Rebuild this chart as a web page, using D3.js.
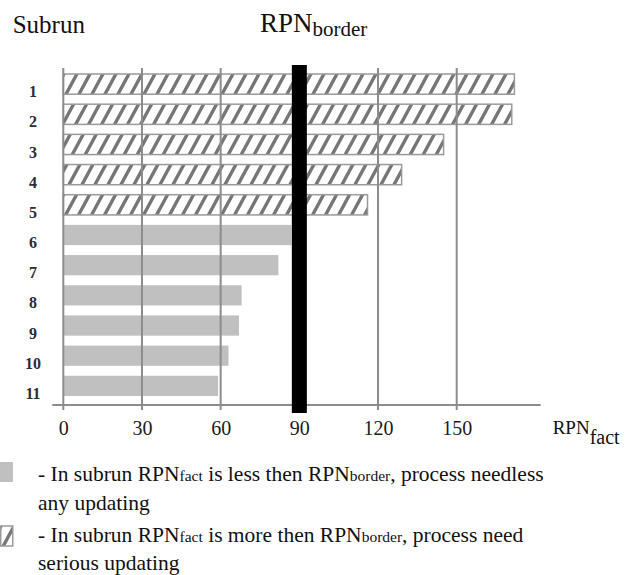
<!DOCTYPE html>
<html>
<head>
<meta charset="utf-8">
<script src="https://cdn.jsdelivr.net/npm/d3@7"></script>
<style>
  body { margin: 0; background: #fff; }
  svg { display: block; font-family: "Liberation Serif", "Times New Roman", serif; }
</style>
</head>
<body>
<div id="chart"></div>
<script>
const subruns = ["1", "2", "3", "4", "5", "6", "7", "8", "9", "10", "11"];
const rpnFact = [172, 171, 145, 129, 116, 87, 82, 68, 67, 63, 59];
const rpnBorder = 90;
const xTicks = [0, 30, 60, 90, 120, 150];

const width = 632;
const height = 575;
const gridColor = "#8c8c8c";

const svg = d3.select("#chart")
    .append("svg")
    .attr("width", width)
    .attr("height", height);

// hatch pattern for bars above the border
const pw = 13, ph = 24;
svg.append("defs")
    .append("pattern")
    .attr("id", "hatch")
    .attr("patternUnits", "userSpaceOnUse")
    .attr("width", pw)
    .attr("height", ph)
    .call(p => p.append("rect").attr("width", pw).attr("height", ph).attr("fill", "#fff"))
    .append("path")
    .attr("d", `M${-pw},${2 * ph}L${2 * pw},${-ph}M${-2 * pw},${2 * ph}L${pw},${-ph}M0,${2 * ph}L${3 * pw},${-ph}`)
    .attr("stroke", "#767676")
    .attr("stroke-width", 3.4);

const x = d3.scaleLinear()
    .domain([0, 150])
    .range([63.3, 456.7]);

const y = d3.scaleBand()
    .domain(subruns)
    .range([74, 396])
    .paddingInner(0.33)
    .paddingOuter(0);

const data = subruns.map((s, i) => ({ subrun: s, value: rpnFact[i] }));

// bars
svg.append("g")
    .selectAll("rect")
    .data(data)
    .join("rect")
    .attr("x", x(0))
    .attr("y", d => y(d.subrun))
    .attr("width", d => x(d.value) - x(0))
    .attr("height", y.bandwidth())
    .attr("fill", d => d.value > rpnBorder ? "url(#hatch)" : "#c0c0c0")
    .attr("stroke", d => d.value > rpnBorder ? "#9a9a9a" : "none")
    .attr("stroke-width", 1.5);

// gridlines over bars
svg.append("g")
    .selectAll("line")
    .data(xTicks)
    .join("line")
    .attr("x1", d => x(d))
    .attr("x2", d => x(d))
    .attr("y1", 68)
    .attr("y2", 410)
    .attr("stroke", gridColor)
    .attr("stroke-width", 2);

// horizontal axis line
svg.append("line")
    .attr("x1", x(0) - 11)
    .attr("x2", x(182))
    .attr("y1", 405)
    .attr("y2", 405)
    .attr("stroke", gridColor)
    .attr("stroke-width", 2);

// border marker
svg.append("rect")
    .attr("x", x(rpnBorder) - 7.5)
    .attr("y", 65)
    .attr("width", 15)
    .attr("height", 348)
    .attr("fill", "#000");

// x tick labels
const xAxis = svg.append("g")
    .attr("transform", "translate(0,405)")
    .call(d3.axisBottom(x).tickValues(xTicks).tickSize(0).tickPadding(15.5));
xAxis.select(".domain").remove();
xAxis.selectAll("text")
    .attr("font-family", "Liberation Serif, Times New Roman, serif")
    .attr("font-size", 20)
    .attr("fill", "#1a1a1a");

// subrun labels
const yAxis = svg.append("g")
    .attr("transform", "translate(33,8)")
    .call(d3.axisLeft(y).tickSize(0).tickPadding(0));
yAxis.select(".domain").remove();
yAxis.selectAll("text")
    .attr("text-anchor", "middle")
    .attr("font-family", "Liberation Serif, Times New Roman, serif")
    .attr("font-weight", "bold")
    .attr("font-size", 16)
    .attr("fill", "#2e2a3a");

// titles
svg.append("text")
    .attr("x", 12.7)
    .attr("y", 33)
    .attr("font-size", 25)
    .attr("fill", "#111")
    .text("Subrun");

const borderTitle = svg.append("text")
    .attr("x", 260)
    .attr("y", 31.7)
    .attr("font-size", 27)
    .attr("fill", "#111");
borderTitle.append("tspan").text("RPN");
borderTitle.append("tspan").attr("font-size", 21).attr("dy", 4.5).text("border");

const factTitle = svg.append("text")
    .attr("x", 552.7)
    .attr("y", 434.3)
    .attr("font-size", 19)
    .attr("fill", "#111");
factTitle.append("tspan").text("RPN");
factTitle.append("tspan").attr("font-size", 20).attr("dy", 10).text("fact");

// legend
svg.append("rect")
    .attr("x", 0).attr("y", 462)
    .attr("width", 13).attr("height", 20)
    .attr("fill", "#c0c0c0");
svg.append("rect")
    .attr("x", 0.75).attr("y", 526)
    .attr("width", 12).attr("height", 20)
    .attr("fill", "url(#hatch)")
    .attr("stroke", "#9a9a9a")
    .attr("stroke-width", 1.5);

const legendLines = [
    { y: 481, parts: [["- In subrun RPN", 0], ["fact", 1], [" is less then RPN", 0], ["border", 1], [", process needless", 0]] },
    { y: 510, parts: [["any updating", 0]] },
    { y: 542, parts: [["- In subrun RPN", 0], ["fact", 1], [" is more then RPN", 0], ["border", 1], [", process need", 0]] },
    { y: 570, parts: [["serious updating", 0]] }
];

svg.append("g")
    .selectAll("text")
    .data(legendLines)
    .join("text")
    .attr("x", 38)
    .attr("y", d => d.y)
    .attr("font-size", 21.5)
    .attr("fill", "#111")
    .style("white-space", "pre")
    .selectAll("tspan")
    .data(d => d.parts)
    .join("tspan")
    .attr("font-size", d => d[1] ? 15.5 : 21.5)
    .text(d => d[0]);
</script>
</body>
</html>
